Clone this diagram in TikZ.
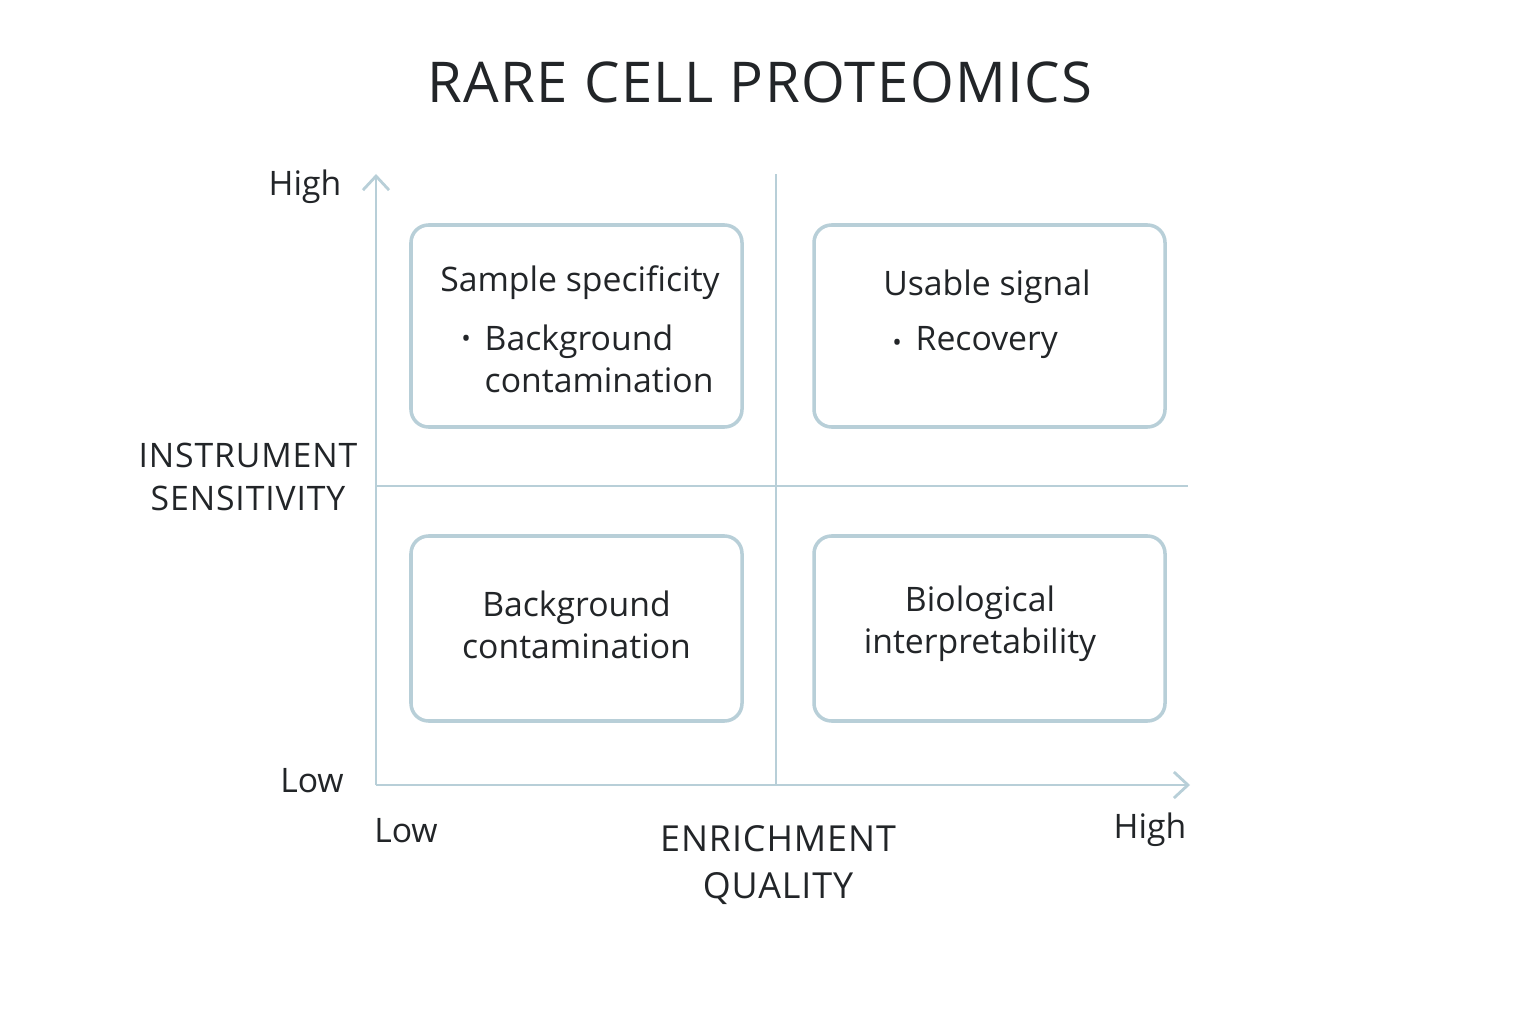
\documentclass[tikz,border=0pt]{standalone}
\usepackage{fontspec}
\setmainfont{Open Sans}
\newfontfamily\titlefont[LetterSpace=2.6]{Open Sans}
\newfontfamily\capsfont[LetterSpace=2.6]{Open Sans}
\usetikzlibrary{arrows.meta,positioning}
\definecolor{axisblue}{HTML}{B8CFD8}
\definecolor{inkgray}{HTML}{222528}
\newcommand{\dotbullet}{\raisebox{0.15ex}{\scalebox{0.75}{\textbullet}}}

\begin{document}
\begin{tikzpicture}[
  font=\fontsize{9.6}{11.5}\selectfont, text=inkgray,
  quad/.style={draw=axisblue, line width=1pt, rounded corners=5pt, minimum width=#1, minimum height=2.02cm},
  lbl/.style={inner sep=0pt, align=center},
  axis/.style={draw=axisblue, line width=0.8pt},
  arr/.style={axis, -{Straight Barb[length=1.4mm, width=2.6mm]}}
]
  \useasboundingbox[fill=white] (0,0) rectangle (15.36,10.24);

  \node[lbl, font=\titlefont\fontsize{16}{18}\selectfont, text=inkgray] (title) at (7.60,9.42) {RARE CELL PROTEOMICS};

  % axes and dividers
  \coordinate (origin) at (3.76,2.39);
  \coordinate (ytop) at (3.76,8.50);
  \coordinate (xend) at (11.90,2.39);
  \coordinate (vtop) at (7.76,8.50);
  \coordinate (vbot) at (7.76,2.39);
  \coordinate (hleft) at (3.76,5.38);
  \coordinate (hright) at (11.88,5.38);
  \draw[arr] (origin) -- (ytop);
  \draw[arr] (origin) -- (xend);
  \draw[axis] (vbot) -- (vtop);
  \draw[axis] (hleft) -- (hright);

  % quadrants
  \node[quad=3.31cm] (tl) at (5.765,6.98) {};
  \node[quad=3.51cm] (tr) at (9.895,6.98) {};
  \node[quad=3.31cm, minimum height=1.85cm] (bl) at (5.765,3.955) {};
  \node[quad=3.51cm, minimum height=1.85cm] (br) at (9.895,3.955) {};

  \node[lbl] (tlhead) at (5.80,7.41) {Sample specificity};
  \node[lbl] (tldot) at (4.66,6.81) {\dotbullet};
  \node[lbl, anchor=west, align=left] (tlitem) at (4.84,6.65) {Background\\[0.5pt]contamination};
  \node[lbl] (trhead) at (9.87,7.37) {Usable signal};
  \node[lbl] (trdot) at (8.97,6.77) {\dotbullet};
  \node[lbl, anchor=west] (tritem) at (9.15,6.81) {Recovery};
  \node[lbl] (bltext) at (5.765,3.995) {Background\\[0.5pt]contamination};
  \node[lbl] (brtext) at (9.80,4.005) {Biological\\[0.5pt]interpretability};

  % axis labels
  \node[lbl] (yhigh) at (3.05,8.37) {High};
  \node[lbl] (ylow) at (3.12,2.43) {Low};
  \node[lbl, font=\capsfont\fontsize{9.6}{11.5}\selectfont] (ytitle) at (2.48,5.47) {INSTRUMENT\\[0.5pt]SENSITIVITY};
  \node[lbl] (xlow) at (4.06,1.93) {Low};
  \node[lbl] (xhigh) at (11.50,1.94) {High};
  \node[lbl, font=\capsfont\fontsize{10.2}{12.5}\selectfont] (xtitle) at (7.78,1.59) {ENRICHMENT\\[1pt]QUALITY};
\end{tikzpicture}
\end{document}
